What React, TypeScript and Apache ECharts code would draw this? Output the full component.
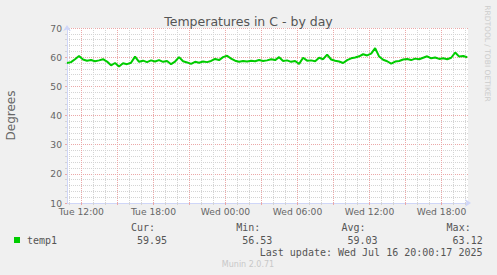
import React, { useEffect, useRef } from "react";
import * as echarts from "echarts";

const chartTitle = "Temperatures in C - by day";
const yAxisName = "Degrees";
const sideText = "RRDTOOL / TOBI OETIKER";
const footerText = "Munin 2.0.71";
const lastUpdate = "Last update: Wed Jul 16 20:00:17 2025";
const seriesName = "temp1";

// hours counted from Tue 00:00
const startHour = 10.8;
const endHour = 44.2;
const stepHours = 1 / 3;

const temp1 = [
  58.0, 58.3, 59.3, 60.4, 59.2, 58.8, 59.0, 58.6, 58.9, 59.3,
  58.5, 57.2, 58.0, 56.8, 57.9, 57.6, 58.1, 60.2, 58.4, 58.8,
  58.3, 58.9, 58.5, 59.0, 58.4, 58.7, 57.6, 58.5, 60.0, 58.6,
  58.2, 57.7, 58.4, 58.1, 58.5, 58.3, 58.7, 59.4, 59.0, 60.0,
  60.5, 59.5, 58.8, 58.4, 58.7, 58.5, 58.8, 58.6, 59.0, 58.7,
  58.9, 59.3, 59.0, 60.0, 58.7, 58.9, 58.4, 58.7, 57.7, 59.8,
  58.8, 58.9, 58.6, 59.8, 59.3, 60.9, 59.2, 58.8, 58.5, 58.0,
  59.0, 59.6, 59.9, 60.3, 61.0, 60.6, 61.2, 63.1, 60.2, 59.1,
  58.6, 57.8, 58.5, 58.7, 59.2, 59.4, 59.0, 59.5, 59.3, 59.8,
  60.3, 59.6, 59.9, 59.4, 59.6, 59.3, 59.8, 61.6, 60.2, 60.4,
  59.95,
];

const yMin = 10;
const yMax = 70;
const yInterval = 10;

const majorHours = [12, 15, 18, 21, 24, 27, 30, 33, 36, 39, 42];
const labelHours = [12, 18, 24, 30, 36, 42];
const minorHours = [11, 13, 14, 16, 17, 19, 20, 22, 23, 25, 26, 28, 29, 31, 32, 34, 35, 37, 38, 40, 41, 43, 44];

const statLabels = ["Cur:", "Min:", "Avg:", "Max:"];
const statValues = ["59.95", "56.53", "59.03", "63.12"];

const AXIS_COLOR = "#CFD6F8";
const FONT_COLOR = "#666666";
const MGRID = "#EBA8A8";
const GRID = "#D4D4D4";

function hourLabel(h: number): string {
  const day = h < 24 ? "Tue" : "Wed";
  const hh = Math.round(h) % 24;
  return `${day} ${hh < 10 ? "0" + hh : hh}:00`;
}

export default function App() {
  const ref = useRef<HTMLDivElement>(null);

  useEffect(() => {
    document.body.style.margin = "0";
    if (!ref.current) return;
    const chart = echarts.init(ref.current, undefined, { renderer: "svg" });
    const seriesData = temp1.map((v, i) => [startHour + i * stepHours, v]);

    const statGraphics: any[] = [];
    statLabels.forEach((lab, i) => {
      statGraphics.push({
        type: "text",
        x: 131 + 105.2 * i,
        y: 227,
        style: { text: lab, fill: "#555", font: '10px "DejaVu Sans Mono"', textVerticalAlign: "middle" },
      });
      statGraphics.push({
        type: "text",
        x: 137 + 105.2 * i,
        y: 240,
        style: { text: statValues[i], fill: "#555", font: '10px "DejaVu Sans Mono"', textVerticalAlign: "middle" },
      });
    });

    chart.setOption({
      animation: false,
      backgroundColor: "#F0F0F0",
      grid: {
        left: 67,
        right: 29,
        top: 28,
        bottom: 72,
        show: true,
        backgroundColor: "#FFFFFF",
        borderWidth: 0,
        containLabel: false,
      },
      title: {
        text: chartTitle,
        left: "center",
        top: 10,
        textStyle: { fontFamily: "DejaVu Sans", fontSize: 12.5, fontWeight: "normal", color: "#555" },
      },
      xAxis: [
        {
          type: "value",
          min: startHour,
          max: endHour,
          position: "bottom",
          axisLine: { show: false },
          axisLabel: { show: false },
          axisTick: { show: true, customValues: minorHours, length: 2, lineStyle: { color: GRID } },
          splitLine: { show: true, lineStyle: { color: GRID, type: [1, 1], width: 1 } },
        },
        {
          type: "value",
          min: startHour,
          max: endHour,
          position: "bottom",
          axisLine: {
            show: true,
            onZero: false,
            lineStyle: { color: AXIS_COLOR, width: 1 },
            symbol: ["none", "arrow"],
            symbolSize: [6, 6],
            symbolOffset: [0, 3],
          },
          axisTick: { show: true, customValues: majorHours, length: 2, lineStyle: { color: MGRID } },
          axisLabel: {
            show: true,
            customValues: labelHours,
            formatter: (v: number) => hourLabel(v),
            color: FONT_COLOR,
            fontFamily: "DejaVu Sans",
            fontSize: 9.2,
            margin: 4,
          },
          splitLine: { show: true, lineStyle: { color: MGRID, type: [1, 1], width: 1 } },
        },
      ],
      yAxis: {
        type: "value",
        min: yMin,
        max: yMax,
        interval: yInterval,
        axisLine: {
          show: true,
          lineStyle: { color: AXIS_COLOR, width: 1 },
          symbol: ["none", "arrow"],
          symbolSize: [6, 6],
          symbolOffset: [0, 3],
        },
        axisTick: { show: true, length: 2, lineStyle: { color: MGRID } },
        minorTick: { show: true, splitNumber: 5, length: 2, lineStyle: { color: GRID } },
        axisLabel: { color: FONT_COLOR, fontFamily: "DejaVu Sans", fontSize: 9.2, margin: 5 },
        splitLine: { show: true, lineStyle: { color: MGRID, type: [1, 1], width: 1 } },
        minorSplitLine: { show: true, lineStyle: { color: GRID, type: [1, 1], width: 1 } },
      },
      series: [
        {
          name: seriesName,
          type: "line",
          xAxisIndex: 0,
          data: seriesData,
          showSymbol: false,
          symbol: "none",
          lineStyle: { color: "#00CC00", width: 2 },
          itemStyle: { color: "#00CC00" },
          z: 5,
        },
      ],
      graphic: [
        {
          type: "text",
          x: 11,
          y: 115.5,
          rotation: Math.PI / 2,
          style: {
            text: yAxisName,
            fill: FONT_COLOR,
            font: '12px "DejaVu Sans"',
            textAlign: "center",
            textVerticalAlign: "middle",
          },
        },
        {
          type: "text",
          x: 487.5,
          y: 53.5,
          rotation: -Math.PI / 2,
          style: {
            text: sideText,
            fill: "#CCCCCC",
            font: '7.5px "DejaVu Sans"',
            textAlign: "center",
            textVerticalAlign: "middle",
          },
        },
        {
          type: "rect",
          shape: { x: 14, y: 237, width: 6, height: 6 },
          style: { fill: "#00CC00" },
        },
        {
          type: "text",
          x: 27,
          y: 240,
          style: { text: seriesName, fill: "#555", font: '10px "DejaVu Sans Mono"', textVerticalAlign: "middle" },
        },
        ...statGraphics,
        {
          type: "text",
          x: 482.5,
          y: 252,
          style: {
            text: lastUpdate,
            fill: "#555",
            font: '10px "DejaVu Sans Mono"',
            textAlign: "right",
            textVerticalAlign: "middle",
          },
        },
        {
          type: "text",
          x: 248,
          y: 264,
          style: {
            text: footerText,
            fill: "#C8C8C8",
            font: '8px "DejaVu Sans"',
            textAlign: "center",
            textVerticalAlign: "middle",
          },
        },
      ],
    });
    return () => chart.dispose();
  }, []);

  return <div ref={ref} style={{ position: "fixed", left: 0, top: 0, width: 497, height: 275 }} />;
}
